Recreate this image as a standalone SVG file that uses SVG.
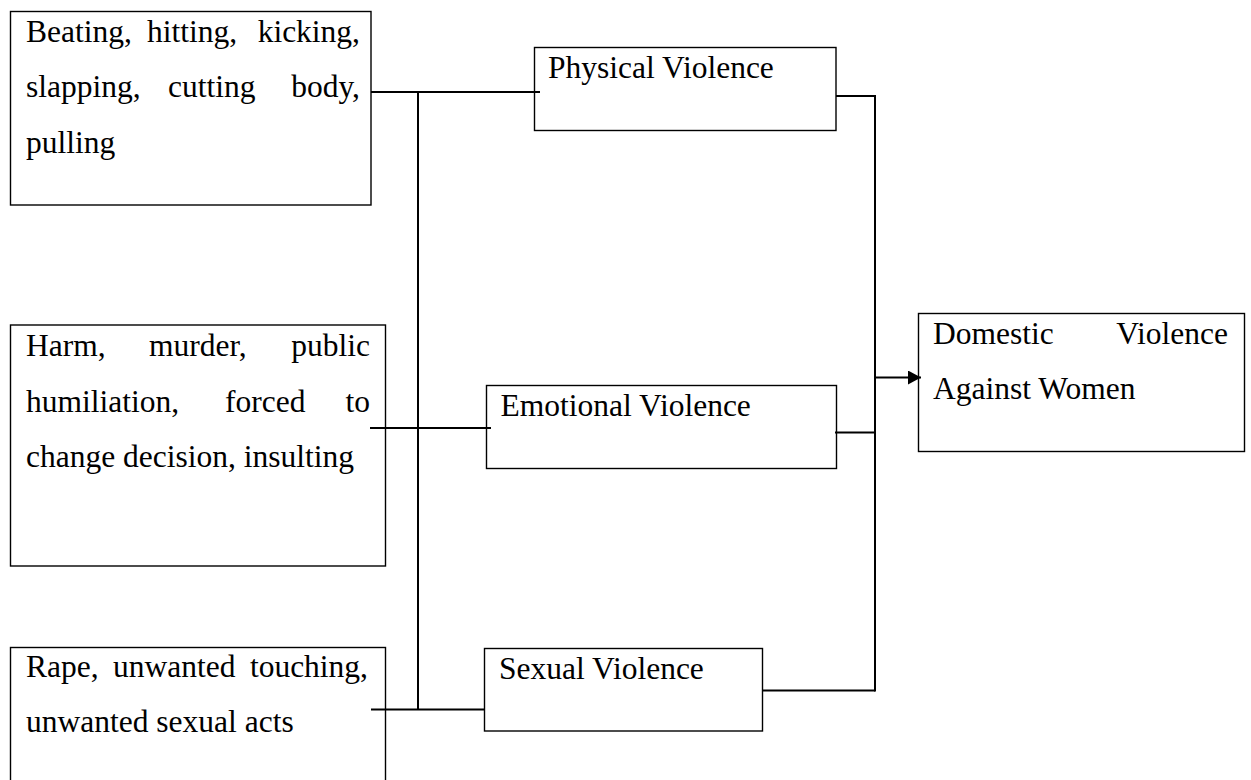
<svg xmlns="http://www.w3.org/2000/svg" width="1251" height="780" viewBox="0 0 1251 780">
<style>
.box{fill:#fff;stroke:#000;stroke-width:1.4}
.t{font-family:"Liberation Serif","Times New Roman",serif;font-size:31.5px;fill:#000}
.e{text-anchor:end}
.c{fill:none;stroke:#000;stroke-width:2}
</style>
<defs>
<marker id="ah" markerWidth="13" markerHeight="14" refX="13" refY="7" orient="auto" markerUnits="userSpaceOnUse">
<path d="M0,0 L13,7 L0,14 Z" fill="#000"/>
</marker>
</defs>
<rect width="1251" height="780" fill="#fff"/>
<g id="physical-acts">
<rect class="box" x="10.5" y="11.5" width="360.5" height="193.5"/>
<text class="t" y="42"><tspan x="26">Beating,</tspan><tspan x="147">hitting,</tspan><tspan x="360" class="e">kicking,</tspan></text>
<text class="t" y="97"><tspan x="26">slapping,</tspan><tspan x="168">cutting</tspan><tspan x="360" class="e">body,</tspan></text>
<text class="t" x="26" y="153">pulling</text>
</g>
<g id="physical">
<rect class="box" x="534.5" y="47.5" width="301.5" height="83"/>
<text class="t" x="548" y="77.5">Physical Violence</text>
</g>
<g id="emotional-acts">
<rect class="box" x="10.5" y="325" width="375" height="241"/>
<text class="t" y="356"><tspan x="26">Harm,</tspan><tspan x="149">murder,</tspan><tspan x="370" class="e">public</tspan></text>
<text class="t" y="411.5"><tspan x="26">humiliation,</tspan><tspan x="225">forced</tspan><tspan x="370" class="e">to</tspan></text>
<text class="t" x="26" y="467">change decision, insulting</text>
</g>
<g id="emotional">
<rect class="box" x="486.5" y="385.5" width="350" height="83"/>
<text class="t" x="500.5" y="415.5">Emotional Violence</text>
</g>
<g id="sexual-acts">
<rect class="box" x="10.5" y="647.5" width="375" height="150"/>
<text class="t" y="677"><tspan x="26">Rape,</tspan><tspan x="113">unwanted</tspan><tspan x="368" class="e">touching,</tspan></text>
<text class="t" x="26" y="732">unwanted sexual acts</text>
</g>
<g id="sexual">
<rect class="box" x="484.5" y="648.5" width="278" height="82.5"/>
<text class="t" x="499" y="679">Sexual Violence</text>
</g>
<g id="domestic">
<rect class="box" x="918.5" y="313.5" width="326" height="138"/>
<text class="t" y="343.5"><tspan x="933">Domestic</tspan><tspan x="1228" class="e">Violence</tspan></text>
<text class="t" x="933" y="398.5">Against Women</text>
</g>
<g id="connectors">
<path class="c" d="M371,92 H540"/>
<path class="c" d="M370,428 H491"/>
<path class="c" d="M371,709.5 H485"/>
<path class="c" d="M418,92 V709.5"/>
<path class="c" d="M836,96 H875"/>
<path class="c" d="M835,432.5 H875"/>
<path class="c" d="M763,690.5 H875"/>
<path class="c" d="M875,95 V691.5"/>
<path class="c" d="M875,377.5 H921" marker-end="url(#ah)"/>
</g>
</svg>
